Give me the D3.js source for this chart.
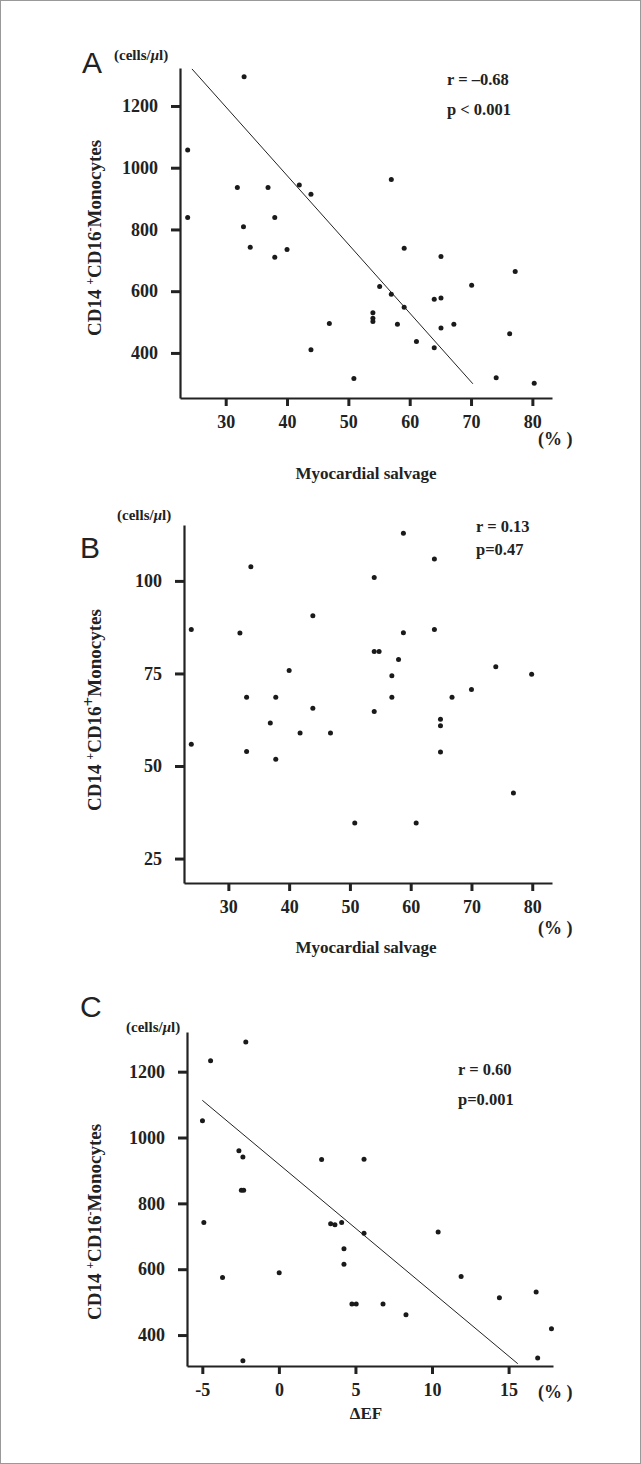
<!DOCTYPE html>
<html lang="en">
<head>
    <meta charset="UTF-8">
    <title>Monocytes vs myocardial salvage / EF</title>
    <script src="https://d3js.org/d3.v7.min.js"></script>
    <style>
        body { margin: 0; background: #fff; }
        .tick text { font-family: 'Liberation Serif', 'Times New Roman', serif; font-weight: bold; font-size: 18px; fill: #222; }
        .lbl { font-family: 'Liberation Serif', 'Times New Roman', serif; font-weight: bold; fill: #222; }
        .letter { font-family: 'Liberation Sans', Arial, sans-serif; font-size: 30px; fill: #222; }
    </style>
</head>
<body>
<div id="chart"></div>
<script>
    // Panel A: CD14+CD16- monocytes vs myocardial salvage (%)
    const salvageA = [33, 23.8, 31.9, 36.9, 42.0, 43.9, 23.8, 32.9, 38.0, 34.0, 38.0, 40.0,
                      46.9, 43.9, 57.0, 59.1, 65.1, 77.2, 55.1, 70.1, 57.0, 64.0, 65.1, 59.1,
                      54.0, 54.0, 54.0, 58.0, 65.1, 67.2, 61.1, 64.0, 76.3, 50.9, 74.1, 80.3];
    const monoA = [1295, 1057, 936, 936, 944, 914, 839, 809, 839, 742, 710, 735,
                   495, 410, 962, 739, 712, 664, 615, 619, 590, 574, 578, 548,
                   530, 512, 502, 493, 481, 493, 437, 417, 462, 317, 320, 302];
    const fitA = { x: [24.5, 70.3], y: [1320, 300] };

    // Panel B: CD14+CD16+ monocytes vs myocardial salvage (%)
    const salvageB = [33.7, 23.9, 31.9, 43.9, 40.0, 33.0, 37.8, 43.9, 36.9, 41.8, 46.8, 23.9,
                      33.0, 37.8, 58.8, 63.9, 54.0, 58.8, 63.9, 54.0, 54.8, 58.0, 74.0, 56.9,
                      79.9, 70.0, 66.8, 56.9, 54.0, 64.9, 64.9, 64.9, 76.9, 50.8, 60.9];
    const monoB = [103.8, 86.9, 85.9, 90.6, 75.8, 68.6, 68.6, 65.6, 61.6, 58.9, 58.9, 55.9,
                   53.9, 51.8, 112.9, 105.9, 100.9, 86.0, 86.9, 80.9, 80.9, 78.8, 76.8, 74.4,
                   74.8, 70.7, 68.6, 68.6, 64.7, 62.6, 60.9, 53.8, 42.7, 34.6, 34.6];

    // Panel C: CD14+CD16- monocytes vs delta EF (%)
    const deltaEF = [-2.16, -4.46, -4.99, -2.61, -2.35, -2.45, -2.3, 2.79, -4.9, -3.68, 0.02,
                     3.38, 3.66, 4.1, 5.56, 5.56, 10.4, 4.25, 4.25, 11.9, 16.8, 14.4, 4.77,
                     5.05, 6.8, 8.3, 17.8, 16.9, -2.35];
    const monoC = [1290, 1233, 1051, 960, 941, 840, 840, 933, 742, 575, 589,
                   738, 735, 742, 934, 709, 713, 662, 615, 578, 531, 513, 494,
                   494, 494, 462, 419, 330, 322];
    const fitC = { x: [-5, 15.6], y: [1113, 313] };

    const xTicksSalvage = [30, 40, 50, 60, 70, 80];
    const yTicksA = [400, 600, 800, 1000, 1200];
    const yTicksB = [25, 50, 75, 100];
    const xTicksEF = [-5, 0, 5, 10, 15];

    const W = 641, H = 1464;
    const svg = d3.select("#chart").append("svg")
        .attr("width", W).attr("height", H);

    // outer frame
    svg.append("rect")
        .attr("x", 0.5).attr("y", 0.5)
        .attr("width", W - 1).attr("height", H - 1)
        .attr("fill", "none").attr("stroke", "#999");

    function drawPanel(p) {
        const x = d3.scaleLinear().domain(p.xDomain).range([p.left, p.right]);
        const y = d3.scaleLinear().domain(p.yDomain).range([p.bottom, p.top]);

        const xAxis = d3.axisBottom(x).tickValues(p.xTicks).tickSizeInner(8).tickSizeOuter(0).tickPadding(9)
            .tickFormat(d => d < 0 ? "-" + Math.abs(d) : String(d));
        const yAxis = d3.axisLeft(y).tickValues(p.yTicks).tickSizeInner(9).tickSizeOuter(0).tickPadding(13)
            .tickFormat(d3.format("d"));

        const gx = svg.append("g").attr("transform", `translate(0,${p.bottom})`).call(xAxis);
        const gy = svg.append("g").attr("transform", `translate(${p.left},0)`).call(yAxis);
        [gx, gy].forEach(g => {
            g.select(".domain").attr("stroke", "#222").attr("stroke-width", 2.2);
            g.selectAll(".tick line").attr("stroke", "#222").attr("stroke-width", 3);
        });

        if (p.fit) {
            svg.append("line")
                .attr("x1", x(p.fit.x[0])).attr("y1", y(p.fit.y[0]))
                .attr("x2", x(p.fit.x[1])).attr("y2", y(p.fit.y[1]))
                .attr("stroke", "#222").attr("stroke-width", 1);
        }

        svg.append("g").selectAll("circle")
            .data(p.xs.map((v, i) => [v, p.ys[i]]))
            .join("circle")
            .attr("cx", d => x(d[0]))
            .attr("cy", d => y(d[1]))
            .attr("r", 2.5)
            .attr("fill", "#1a1a1a");

        // panel letter
        svg.append("text").attr("class", "letter")
            .attr("x", p.letterPos[0]).attr("y", p.letterPos[1]).text(p.letter);

        // units
        const u = svg.append("text").attr("class", "lbl")
            .attr("x", p.unitPos[0]).attr("y", p.unitPos[1])
            .attr("font-size", 15);
        u.append("tspan").text("(cells/");
        u.append("tspan").attr("font-style", "italic").text("\u03bc");
        u.append("tspan").text("l)");

        // y title
        const yt = svg.append("text").attr("class", "lbl")
            .attr("font-size", 19)
            .attr("text-anchor", "middle")
            .attr("transform", `translate(${p.yTitleX},${p.yTitleMid}) rotate(-90)`);
        yt.append("tspan").text("CD14 ");
        yt.append("tspan").attr("font-size", 12).attr("dy", -7).text("+");
        yt.append("tspan").attr("dy", 7).text("CD16");
        yt.append("tspan").attr("font-size", p.secondSign === "+" ? 17 : 12).attr("dy", -7).text(p.secondSign);
        yt.append("tspan").attr("dy", 7).text("Monocytes");

        // x title and percent unit
        svg.append("text").attr("class", "lbl")
            .attr("font-size", 17).attr("text-anchor", "middle")
            .attr("x", 366).attr("y", p.xTitleY).text(p.xTitle);
        svg.append("text").attr("class", "lbl")
            .attr("font-size", 18)
            .attr("x", 538).attr("y", p.pctY).text("(% )");

        // stats
        p.stats.forEach((s, i) => {
            svg.append("text").attr("class", "lbl")
                .attr("font-size", 16.5)
                .attr("x", p.statsX).attr("y", p.statsY[i]).text(s);
        });
    }

    drawPanel({
        left: 180, right: 552, top: 68, bottom: 398,
        xDomain: [22.55, 83.2], yDomain: [254, 1323],
        xTicks: xTicksSalvage, yTicks: yTicksA,
        xs: salvageA, ys: monoA, fit: fitA,
        letter: "A", letterPos: [82, 73], unitPos: [114, 60],
        yTitleX: 101, yTitleMid: 238, secondSign: "-",
        xTitle: "Myocardial salvage", xTitleY: 479, pctY: 445,
        stats: ["r = \u20130.68", "p < 0.001"], statsX: 447, statsY: [85, 115]
    });

    drawPanel({
        left: 184, right: 552, top: 525, bottom: 883,
        xDomain: [22.7, 83.25], yDomain: [18.4, 115.1],
        xTicks: xTicksSalvage, yTicks: yTicksB,
        xs: salvageB, ys: monoB, fit: null,
        letter: "B", letterPos: [80, 558], unitPos: [117, 520],
        yTitleX: 101, yTitleMid: 710, secondSign: "+",
        xTitle: "Myocardial salvage", xTitleY: 953, pctY: 934,
        stats: ["r = 0.13", "p=0.47"], statsX: 476, statsY: [532, 555]
    });

    drawPanel({
        left: 187, right: 553, top: 1032, bottom: 1366,
        xDomain: [-6.0, 17.9], yDomain: [306, 1320.5],
        xTicks: xTicksEF, yTicks: yTicksA,
        xs: deltaEF, ys: monoC, fit: fitC,
        letter: "C", letterPos: [80, 1017], unitPos: [126, 1032],
        yTitleX: 101, yTitleMid: 1222, secondSign: "-",
        xTitle: "\u0394EF", xTitleY: 1419, pctY: 1398,
        stats: ["r = 0.60", "p=0.001"], statsX: 458, statsY: [1075, 1105]
    });
</script>
</body>
</html>
